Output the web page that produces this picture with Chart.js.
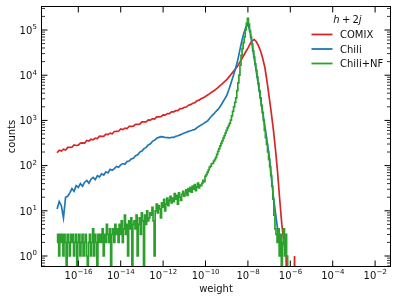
<!DOCTYPE html>
<html>
<head>
<meta charset="utf-8">
<script src="https://cdn.jsdelivr.net/npm/chart.js@4"></script>
<style>
  html, body { margin: 0; padding: 0; background: #fff; }
</style>
</head>
<body>
<canvas id="weightChart" width="398" height="302"></canvas>
<script>
// histogram binning: log10(weight) of the first bin centre and the bin width
var coarseStart = -17.0, coarseStep = 0.1;   // COMIX, Chili
var fineStart = -17.0, fineStep = 0.05;      // Chili+NF

// counts per bin
var comix = [192, 219, 210, 231, 222, 253, 254, 255, 288, 279,
  283, 315, 318, 314, 359, 348, 383, 371, 404, 395,
  448, 443, 445, 495, 484, 523, 505, 569, 573, 576,
  648, 627, 677, 661, 743, 741, 746, 822, 820, 825,
  927, 934, 930, 1025, 1012, 1093, 1068, 1199, 1197, 1205,
  1327, 1313, 1421, 1406, 1552, 1551, 1645, 1643, 1815, 1814,
  1943, 1974, 2171, 2227, 2401, 2462, 2720, 2803, 3036, 3160,
  3377, 3660, 3912, 4240, 4538, 4910, 5382, 5957, 6530, 7226,
  7930, 9078, 10375, 11858, 13552, 15488, 18707, 22594, 27290, 32961,
  39811, 48978, 57544, 61660, 54954, 44668, 33884, 23442, 14791, 7413,
  3388, 1514, 631, 229, 72, 18, 5, 2, 1, 0,
  0, 0, 1, 0];

var chili = [11, 16, 13, 7, 20, 21, 25, 31, 27, 36,
  33, 40, 35, 43, 47, 41, 50, 55, 49, 60,
  56, 66, 62, 73, 69, 83, 79, 86, 96, 92,
  104, 111, 107, 123, 126, 141, 145, 165, 174, 199,
  211, 238, 253, 286, 304, 345, 366, 402, 421, 438,
  431, 418, 415, 409, 424, 421, 446, 458, 479, 500,
  526, 548, 571, 590, 612, 632, 694, 740, 795, 850,
  912, 978, 1115, 1266, 1405, 1592, 1770, 2049, 2455, 2951,
  3548, 4786, 6607, 9333, 13183, 19498, 32359, 53703, 83176, 114815,
  134896, 95499, 47863, 23442, 11749, 5888, 2951, 1479, 724, 355,
  166, 60, 21, 9, 4, 2, 1, 0, 0, 0,
  0, 0, 0, 0];

var chiliNF = [2, 3, 1, 3, 2, 3, 1, 3, 2, 0, 3, 2, 1, 3, 2, 3, 1, 2, 3, 0, 2, 3, 1, 2, 3,
  1, 2, 3, 1, 0, 2, 3, 1, 2, 4, 1, 3, 2, 0, 3, 2,
  3, 2, 4, 1, 3, 2, 5, 3, 2, 4, 0, 3, 4, 2, 5, 3,
  4, 2, 5, 3, 6, 2, 4, 8, 3, 5, 1, 6, 4, 7, 0, 5,
  6, 4, 8, 1, 5, 7, 3, 9, 6, 0, 8, 5, 10, 6, 7, 9,
  8, 12, 6, 1, 10, 14, 9, 13, 11, 7, 15, 12, 18, 10, 14, 19,
  13, 17, 21, 15, 19, 16, 24, 18, 22, 14, 25, 20, 17, 23, 27, 21,
  24, 29, 22, 31, 27, 33, 26, 35, 30, 38, 28, 34, 41, 32, 37, 36,
  41, 47, 44, 58, 63, 71, 80, 91, 97, 110,
  112, 126, 135, 152, 178, 207, 238, 272, 311, 352,
  405, 458, 527, 601, 682, 764, 858, 1010, 1262, 1588,
  1998, 2515, 3160, 4580, 6760, 10050, 16600, 27500, 38900, 52400,
  70800, 100200, 141000, 182000, 134900, 95500, 69200, 49000, 34700, 25100,
  17800, 12900, 9120, 6610, 4570, 3160, 2140, 1480, 1000, 603,
  417, 295, 200, 138, 95, 60, 35, 18, 8, 4,
  3, 2, 4, 1, 3, 0, 2, 4, 1, 3,
  1, 0];

var seriesNames = ['COMIX', 'Chili', 'Chili+NF'];
var seriesColors = ['#d62728', '#1f77b4', '#2ca02c'];
var xTickExponents = [-16, -14, -12, -10, -8, -6, -4, -2];
var yTickExponents = [0, 1, 2, 3, 4, 5];

function toPoints(counts, start, step) {
  // empty bins go far below the axis, like a step histogram on a log axis
  return counts.map(function (c, i) {
    return { x: Math.pow(10, start + i * step), y: c > 0 ? c : 1e-3 };
  });
}

var FONT = '"DejaVu Sans", sans-serif';

function drawPow(ctx, exp, x, baseY, align) {
  var base = '10';
  var sup = (exp < 0 ? '\u2212' : '') + Math.abs(exp);
  ctx.font = '10px ' + FONT;
  var wb = ctx.measureText(base).width;
  ctx.font = '7px ' + FONT;
  var ws = ctx.measureText(sup).width;
  var x0 = align === 'center' ? x - (wb + ws) / 2 : x - (wb + ws);
  ctx.textAlign = 'left';
  ctx.textBaseline = 'alphabetic';
  ctx.font = '10px ' + FONT;
  ctx.fillText(base, x0, baseY);
  ctx.font = '7px ' + FONT;
  ctx.fillText(sup, x0 + wb + 0.3, baseY - 4.4);
}

var axesDecor = {
  id: 'axesDecor',
  afterDraw: function (chart) {
    var ctx = chart.ctx, a = chart.chartArea;
    var xs = chart.scales.x, ys = chart.scales.y;
    ctx.save();
    ctx.strokeStyle = '#000';
    ctx.fillStyle = '#111';
    ctx.lineWidth = 1;

    // frame
    ctx.strokeRect(a.left, a.top, a.right - a.left, a.bottom - a.top);

    // x ticks, inward on bottom and top
    ctx.beginPath();
    xTickExponents.forEach(function (e) {
      var px = xs.getPixelForValue(Math.pow(10, e));
      ctx.moveTo(px, a.bottom); ctx.lineTo(px, a.bottom - 6);
      ctx.moveTo(px, a.top); ctx.lineTo(px, a.top + 6);
    });
    // y major ticks, left and right
    yTickExponents.forEach(function (e) {
      var py = ys.getPixelForValue(Math.pow(10, e));
      ctx.moveTo(a.left, py); ctx.lineTo(a.left + 6, py);
      ctx.moveTo(a.right, py); ctx.lineTo(a.right - 6, py);
    });
    ctx.stroke();

    // y minor ticks
    ctx.beginPath();
    ctx.lineWidth = 0.8;
    for (var d = -1; d <= 5; d++) {
      for (var m = 2; m <= 9; m++) {
        var v = m * Math.pow(10, d);
        if (v < ys.min || v > ys.max) continue;
        var py = ys.getPixelForValue(v);
        ctx.moveTo(a.left, py); ctx.lineTo(a.left + 3.5, py);
        ctx.moveTo(a.right, py); ctx.lineTo(a.right - 3.5, py);
      }
    }
    ctx.stroke();

    // tick labels
    xTickExponents.forEach(function (e) {
      drawPow(ctx, e, xs.getPixelForValue(Math.pow(10, e)), a.bottom + 12.2, 'center');
    });
    yTickExponents.forEach(function (e) {
      drawPow(ctx, e, a.left - 4.8, ys.getPixelForValue(Math.pow(10, e)) + 3.8, 'right');
    });

    // axis titles
    ctx.font = '10px ' + FONT;
    ctx.textAlign = 'center';
    ctx.textBaseline = 'alphabetic';
    ctx.fillText('weight', (a.left + a.right) / 2, 291.5);
    ctx.save();
    ctx.translate(15, (a.top + a.bottom) / 2);
    ctx.rotate(-Math.PI / 2);
    ctx.fillText('counts', 0, 0);
    ctx.restore();

    // legend title  h + 2j
    var parts = [['h', true], ['+', false], ['2', false], ['j', true]];
    var gaps = [2.2, 2.2, 0, 0];
    var widths = parts.map(function (p) {
      ctx.font = (p[1] ? 'italic ' : '') + '10px ' + FONT;
      return ctx.measureText(p[0]).width;
    });
    var total = widths.reduce(function (s, w, i) { return s + w + gaps[i]; }, 0);
    var tx = 347.5 - total / 2;
    ctx.textAlign = 'left';
    parts.forEach(function (p, i) {
      ctx.font = (p[1] ? 'italic ' : '') + '10px ' + FONT;
      ctx.fillText(p[0], tx, 22.6);
      tx += widths[i] + gaps[i];
    });

    // legend entries
    var rows = [34.5, 49, 63.5];
    seriesNames.forEach(function (name, i) {
      ctx.strokeStyle = seriesColors[i];
      ctx.lineWidth = 1.8;
      ctx.beginPath();
      ctx.moveTo(311.5, rows[i]); ctx.lineTo(332.5, rows[i]);
      ctx.stroke();
      ctx.font = '10px ' + FONT;
      ctx.fillText(name, 340, rows[i] + 3.6);
    });
    ctx.restore();
  }
};

var ctx = document.getElementById('weightChart').getContext('2d');
var weightChart = new Chart(ctx, {
  type: 'line',
  data: {
    datasets: [{
      label: seriesNames[0],
      data: toPoints(comix, coarseStart, coarseStep),
      borderColor: seriesColors[0],
      order: 3
    }, {
      label: seriesNames[1],
      data: toPoints(chili, coarseStart, coarseStep),
      borderColor: seriesColors[1],
      order: 2
    }, {
      label: seriesNames[2],
      data: toPoints(chiliNF, fineStart, fineStep),
      borderColor: seriesColors[2],
      stepped: 'middle',
      order: 1
    }]
  },
  options: {
    responsive: false,
    animation: false,
    layout: { padding: { left: 41.5, right: 7.5, top: 6.5, bottom: 35.5 } },
    elements: {
      point: { radius: 0 },
      line: { tension: 0, borderWidth: 1.7, fill: false }
    },
    scales: {
      x: { type: 'logarithmic', display: false, min: Math.pow(10, -17.736), max: Math.pow(10, -1.274) },
      y: { type: 'logarithmic', display: false, min: Math.pow(10, -0.232), max: Math.pow(10, 5.52) }
    },
    plugins: {
      legend: { display: false },
      tooltip: { enabled: false }
    }
  },
  plugins: [axesDecor]
});
</script>
</body>
</html>
